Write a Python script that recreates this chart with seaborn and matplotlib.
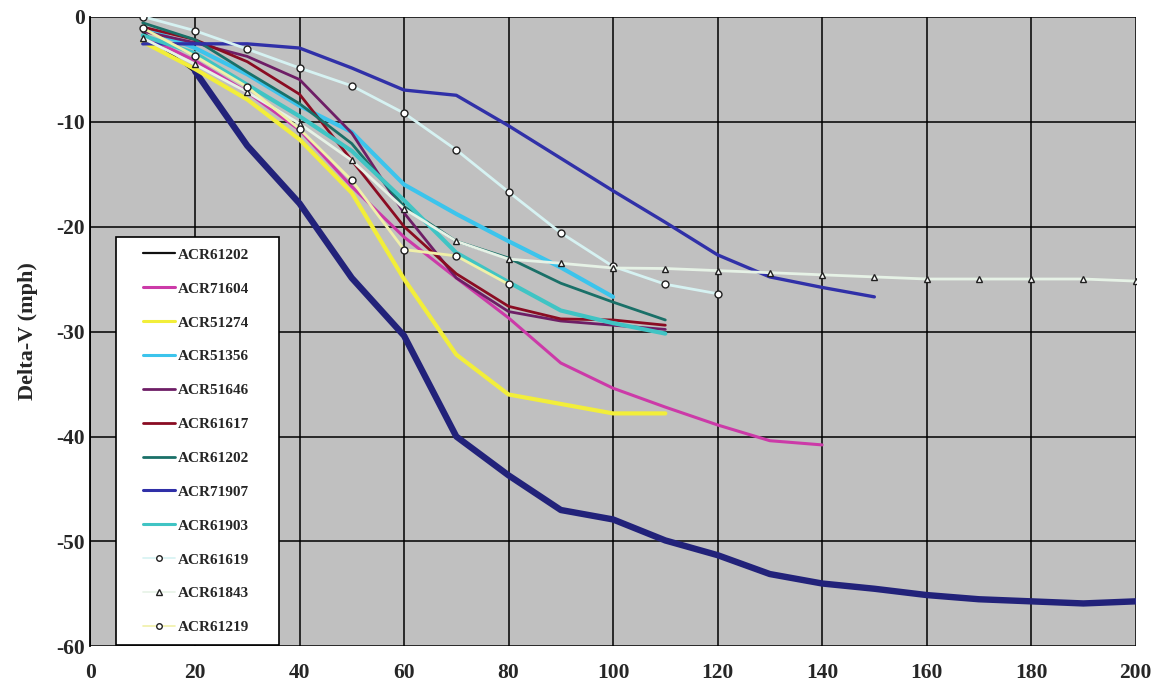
import matplotlib
matplotlib.use("Agg")
import numpy as np
import matplotlib.pyplot as plt
import seaborn as sns
import pandas as pd
from matplotlib.lines import Line2D
from matplotlib.legend_handler import HandlerLine2D

sns.set_theme(style="white")
plt.rcParams['font.family'] = ['Liberation Serif', 'DejaVu Serif']

# ---------------- data ----------------
x_navy = [20, 30, 40, 50, 60, 70, 80, 90, 100, 110, 120, 130, 140, 150, 160, 170, 180, 190, 200]
y_navy = [-5.2, -12.3, -17.8, -24.9, -30.4, -40.0, -43.7, -47.0, -47.9, -49.9, -51.3, -53.1,
          -54.0, -54.5, -55.1, -55.5, -55.7, -55.9, -55.7]

x_acr61202a = [10, 20, 30, 40]
y_acr61202a = [-1.5, -5.3, -12.3, -17.8]

x_acr71604 = [10, 20, 30, 40, 50, 60, 70, 80, 90, 100, 110, 120, 130, 140]
y_acr71604 = [-1.8, -4.2, -7.2, -10.8, -16.2, -21.0, -24.9, -28.7, -33.0, -35.4, -37.2, -38.9, -40.4, -40.8]

x_acr51274 = [10, 20, 30, 40, 50, 60, 70, 80, 90, 100, 110]
y_acr51274 = [-2.4, -5.0, -7.9, -11.7, -16.8, -25.0, -32.2, -36.0, -36.9, -37.8, -37.8]

x_acr51356 = [10, 20, 30, 40, 50, 60, 70, 80, 90, 100]
y_acr51356 = [-1.0, -3.0, -5.5, -8.5, -11.0, -16.0, -18.8, -21.4, -23.9, -26.7]

x_acr51646 = [10, 20, 30, 40, 50, 60, 70, 80, 90, 100, 110]
y_acr51646 = [-1.4, -2.5, -3.8, -6.0, -11.1, -18.7, -24.9, -28.1, -29.0, -29.4, -29.8]

x_acr61617 = [10, 20, 30, 40, 50, 60, 70, 80, 90, 100, 110]
y_acr61617 = [-1.0, -2.2, -4.3, -7.4, -13.7, -20.0, -24.5, -27.6, -28.8, -28.9, -29.4]

x_acr61202b = [10, 20, 30, 40, 50, 60, 70, 80, 90, 100, 110]
y_acr61202b = [-0.6, -2.2, -5.3, -8.3, -12.1, -18.1, -21.4, -23.0, -25.4, -27.2, -28.9]

x_acr71907 = [10, 20, 30, 40, 50, 60, 70, 80, 90, 100, 110, 120, 130, 140, 150]
y_acr71907 = [-2.6, -2.6, -2.6, -3.0, -4.9, -7.0, -7.5, -10.4, -13.5, -16.6, -19.6, -22.7, -24.8, -25.8, -26.7]

x_acr61903 = [10, 20, 30, 40, 50, 60, 70, 80, 90, 100, 110]
y_acr61903 = [-1.8, -3.5, -6.5, -9.5, -12.8, -17.5, -22.5, -25.3, -28.0, -29.2, -30.2]

x_acr61619 = [10, 20, 30, 40, 50, 60, 70, 80, 90, 100, 110, 120]
y_acr61619 = [0.0, -1.35, -3.1, -4.9, -6.6, -9.2, -12.7, -16.7, -20.6, -23.8, -25.5, -26.4]

x_acr61843 = [10, 20, 30, 40, 50, 60, 70, 80, 90, 100, 110, 120, 130, 140, 150, 160, 170, 180, 190, 200]
y_acr61843 = [-2.05, -4.55, -7.2, -10.2, -13.7, -18.3, -21.4, -23.1, -23.5, -23.95, -24.0, -24.2, -24.4,
              -24.6, -24.8, -25.0, -25.0, -25.0, -25.0, -25.2]

x_acr61219 = [10, 20, 30, 40, 50, 60, 70, 80]
y_acr61219 = [-1.1, -3.76, -6.7, -10.7, -15.6, -22.2, -22.8, -25.5]

x_ticks = [0, 20, 40, 60, 80, 100, 120, 140, 160, 180, 200]
y_ticks = [0, -10, -20, -30, -40, -50, -60]
y_label = "Delta-V (mph)"

# ---------------- style ----------------
series = [
    # label, x, y, color, lw, marker
    ("ACR61202", x_acr61202a, y_acr61202a, "#101010", 1.6, None),
    ("ACR71604", x_acr71604, y_acr71604, "#cc3aa8", 2.2, None),
    ("ACR51274", x_acr51274, y_acr51274, "#f2ee3a", 3.0, None),
    ("ACR51356", x_acr51356, y_acr51356, "#3cc4ec", 3.0, None),
    ("ACR51646", x_acr51646, y_acr51646, "#6e1e66", 2.0, None),
    ("ACR61617", x_acr61617, y_acr61617, "#8a0c22", 2.0, None),
    ("ACR61202", x_acr61202b, y_acr61202b, "#1a7068", 2.0, None),
    ("ACR71907", x_acr71907, y_acr71907, "#3030a8", 2.4, None),
    ("ACR61903", x_acr61903, y_acr61903, "#40c4c4", 3.0, None),
    ("ACR61619", x_acr61619, y_acr61619, "#d6f2f2", 2.0, "o"),
    ("ACR61843", x_acr61843, y_acr61843, "#e6f2e6", 2.0, "^"),
    ("ACR61219", x_acr61219, y_acr61219, "#f0f0a8", 2.0, "o"),
]


class RightHandler(HandlerLine2D):
    """Draw the legend sample only in the right part of the handle box."""
    frac = 0.66

    def create_artists(self, legend, orig_handle, xdescent, ydescent,
                       width, height, fontsize, trans):
        arts = super().create_artists(legend, orig_handle, xdescent, ydescent,
                                      width, height, fontsize, trans)
        x0 = -xdescent + width * (1 - self.frac)
        x1 = -xdescent + width
        for a in arts:
            xd = np.asarray(a.get_xdata())
            if len(xd) > 1:
                a.set_xdata(np.linspace(x0, x1, len(xd)))
            else:
                a.set_xdata([0.5 * (x0 + x1)])
        return arts


fig = plt.figure(figsize=(11.6, 6.89), dpi=100)
ax = fig.add_axes([0.078, 0.0617, 0.901, 0.9143])
ax.set_facecolor("#c0c0c0")

sns.lineplot(x=x_navy, y=y_navy, ax=ax, color="#22227a", linewidth=4.6,
             sort=False, legend=False, zorder=3)

handles = []
labels = []
for i, (lab, xs, ys, col, lw, mk) in enumerate(series):
    df = pd.DataFrame({"x": xs, "y": ys})
    kw = {}
    if mk is not None:
        kw = dict(marker=mk, markersize=5, markerfacecolor="white",
                  markeredgecolor="#202020", markeredgewidth=1.0)
    z = 4 if mk is None else 5
    if i == 0:
        z = 2.5
    sns.lineplot(data=df, x="x", y="y", ax=ax, color=col, linewidth=lw,
                 sort=False, legend=False, zorder=z, **kw)
    if mk is None:
        h = Line2D([], [], color=col, linewidth=min(lw, 2.2))
    else:
        h = Line2D([], [], color=col, linewidth=1.2, marker=mk, markersize=4,
                   markerfacecolor="white", markeredgecolor="#202020",
                   markeredgewidth=1.0)
    handles.append(h)
    labels.append(lab)

ax.set_xlim(0, 200)
ax.set_ylim(-60, 0)
ax.set_xticks(x_ticks)
ax.set_yticks(y_ticks)
ax.set_xticklabels([str(t) for t in x_ticks], fontsize=15.5, fontweight="bold")
ax.set_yticklabels([str(t) for t in y_ticks], fontsize=15.5, fontweight="bold")
ax.tick_params(axis="x", pad=12, length=0)
ax.tick_params(axis="y", pad=4, length=0)
ax.set_xlabel("")
ax.set_ylabel(y_label, fontsize=16, fontweight="bold", labelpad=13)

ax.grid(True, color="black", linewidth=1.1)
ax.set_axisbelow(True)
for s in ["top", "right", "bottom"]:
    ax.spines[s].set_visible(False)
ax.spines["left"].set_color("black")
ax.spines["left"].set_linewidth(1.3)

hmap = {h: RightHandler() for h in handles}
leg = ax.legend(handles, labels, loc="lower left",
                bbox_to_anchor=(0.0244, 0.0024, 0.156, 0.3), mode="expand",
                frameon=True, fancybox=False, framealpha=1, edgecolor="black",
                facecolor="white",
                prop={"family": "Liberation Serif", "weight": "bold", "size": 11},
                labelspacing=1.32, handlelength=3.15, handletextpad=0.2,
                borderpad=0.7, borderaxespad=0, handler_map=hmap)
leg.get_frame().set_linewidth(1.2)
leg.set_zorder(10)

fig.savefig("out.png", dpi=100, facecolor="white")
